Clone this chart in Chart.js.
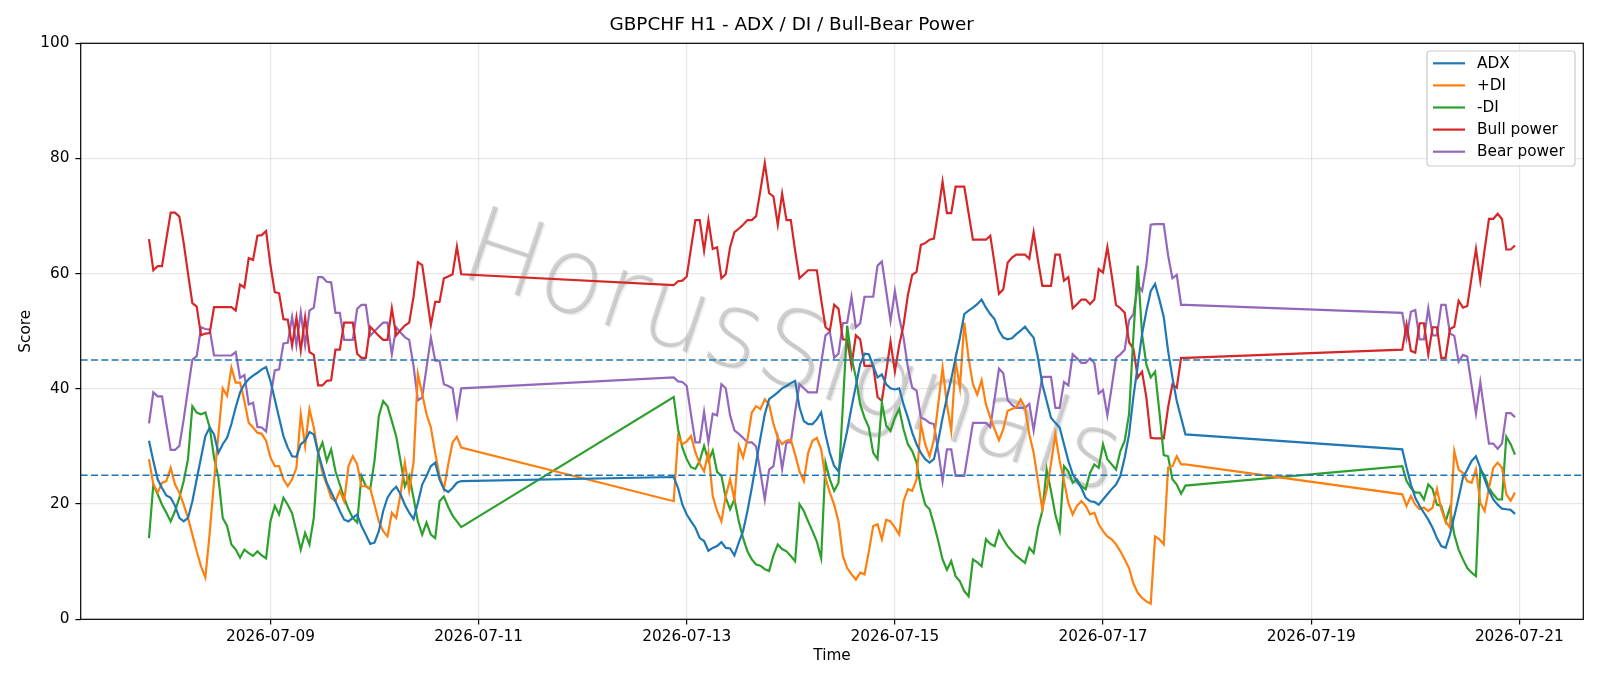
<!DOCTYPE html>
<html>
<head>
<meta charset="utf-8">
<script src="https://cdn.jsdelivr.net/npm/chart.js@4.4.1/dist/chart.umd.min.js"></script>
<style>
  html, body { margin: 0; padding: 0; background: #fff; }
  canvas { display: block; }
</style>
</head>
<body>
<canvas id="chart" width="1600" height="686"></canvas>
<script>
// hourly bars, three trading sessions (weekends skipped)
const sessionStarts = ['2026-07-07T20:00:00Z', '2026-07-12T21:00:00Z', '2026-07-19T21:00:00Z'];
const sessionHours = [73, 119, 27];
const tickLabels = ['2026-07-09', '2026-07-11', '2026-07-13', '2026-07-15', '2026-07-17', '2026-07-19', '2026-07-21'];
const thresholds = [25, 45];

const adx = [
  31.0, 27.5, 24.3, 22.8, 21.5, 21.1, 19.7, 17.6, 17.0, 17.6,
  20.5, 24.3, 28.1, 31.8, 33.3, 32.1, 28.9, 30.4, 31.5, 33.9,
  36.8, 39.4, 40.8, 41.7, 42.3, 42.8, 43.4, 43.8, 41.4, 38.2,
  35.0, 31.8, 29.8, 28.3, 28.2, 30.4, 31.0, 32.5, 32.1, 28.9,
  26.3, 23.7, 22.1, 20.5, 18.8, 17.3, 17.0, 17.6, 18.2, 16.2,
  14.7, 13.1, 13.3, 15.3, 18.8, 21.1, 22.3, 23.0, 21.7, 19.9,
  18.5, 17.4, 20.2, 23.4, 24.9, 26.6, 27.2, 24.3, 22.6, 22.1,
  22.8, 23.7, 24.0,
  24.7, 22.8, 19.9, 18.2, 17.0, 15.9, 14.1, 13.6, 11.9, 12.4,
  12.7, 13.4, 12.4, 12.3, 11.1, 13.3, 15.3, 18.8, 22.8, 27.2,
  31.5, 35.6, 38.2, 38.8, 39.4, 40.1, 40.5, 41.0, 41.4, 36.8,
  34.4, 33.9, 33.9, 34.7, 35.9, 32.1, 28.9, 26.6, 25.7, 29.2,
  32.7, 36.8, 40.5, 44.3, 46.1, 46.0, 44.0, 42.0, 42.5, 40.8,
  40.1, 39.9, 40.1, 37.3, 35.0, 32.4, 30.4, 28.9, 27.8, 27.2,
  27.8, 31.0, 35.0, 38.5, 41.7, 45.4, 48.9, 53.0, 53.6, 54.1,
  54.7, 55.5, 54.1, 53.0, 52.1, 50.1, 48.9, 48.6, 48.8, 49.5,
  50.1, 50.8, 49.8, 48.9, 45.4, 40.8, 37.9, 35.0, 34.1, 33.3,
  30.4, 27.5, 25.2, 24.0, 22.8, 21.1, 20.5, 20.4, 19.9, 20.8,
  21.7, 22.6, 23.4, 24.9, 28.1, 32.1, 38.6, 44.0, 49.5, 53.5,
  57.0, 58.2, 55.5, 52.5, 46.6, 42.0, 37.9, 35.0, 32.1,
  29.5, 26.3, 23.4, 21.1, 19.7, 18.5, 17.3, 15.9, 14.1, 12.7,
  12.4, 14.7, 17.9, 21.1, 24.6, 26.0, 27.5, 28.3, 26.3, 24.3,
  22.3, 20.8, 19.9, 19.2, 19.1, 19.0, 18.3
];

const plusDi = [
  27.8, 23.4, 22.0, 23.7, 24.0, 26.3, 23.4, 22.0, 19.9, 17.6,
  14.7, 11.8, 9.2, 7.3, 15.0, 24.0, 32.0, 40.1, 38.8, 43.7,
  41.1, 41.1, 37.9, 34.1, 33.3, 32.4, 32.2, 31.0, 28.1, 26.6,
  26.6, 24.3, 23.1, 24.3, 26.3, 35.6, 30.1, 36.5, 33.3, 28.9,
  25.4, 23.4, 21.1, 20.5, 22.3, 20.5, 26.6, 28.3, 26.9, 23.1,
  23.1, 22.8, 19.9, 17.0, 15.3, 14.4, 18.5, 17.6, 21.7, 27.2,
  22.3, 27.2, 42.6, 39.1, 35.6, 33.3, 28.9, 24.9, 22.6, 26.9,
  30.7, 31.7, 29.8,
  20.5, 31.8, 30.4, 30.9, 31.8, 29.0, 27.0, 25.7, 29.0, 21.4,
  18.8, 17.0, 21.4, 24.3, 20.8, 30.1, 28.1, 31.2, 35.9, 37.0,
  36.5, 38.2, 37.3, 33.9, 31.5, 30.4, 31.0, 31.2, 28.6, 25.7,
  24.0, 28.9, 31.0, 31.5, 29.5, 24.5, 22.0, 19.9, 17.0, 11.0,
  8.9, 7.8, 6.9, 8.1, 7.8, 11.8, 16.2, 16.5, 13.9, 17.3,
  17.0, 15.9, 14.7, 20.5, 22.6, 22.3, 24.3, 33.9, 30.4, 28.3,
  31.2, 37.3, 43.7, 37.3, 32.7, 44.9, 40.2, 51.5, 45.3, 40.8,
  39.0, 41.5, 37.3, 35.0, 33.0, 31.1, 33.0, 36.2, 36.5, 36.8,
  38.2, 36.8, 32.1, 28.9, 24.0, 19.1, 22.5, 27.0, 32.1, 27.5,
  24.0, 20.2, 18.2, 19.7, 20.5, 19.7, 18.2, 18.5, 16.5, 15.3,
  14.4, 13.9, 13.0, 11.8, 10.4, 8.9, 6.2, 4.6, 3.7, 3.1,
  2.7, 14.4, 13.9, 13.0, 26.3, 26.6, 28.3, 26.9, 26.9,
  21.7, 19.7, 21.4, 19.9, 19.1, 19.4, 18.8, 19.4, 22.6, 19.1,
  17.0, 15.9, 29.2, 26.0, 25.4, 24.0, 23.7, 26.0, 20.2, 18.8,
  22.8, 26.3, 27.2, 26.3, 21.7, 20.6, 22.0
];

const minusDi = [
  14.1, 23.4, 21.7, 19.9, 18.5, 17.0, 18.8, 21.1, 24.0, 27.8,
  37.0, 35.9, 35.6, 35.9, 33.3, 28.1, 24.6, 17.6, 16.2, 13.0,
  12.1, 10.7, 12.1, 11.5, 11.0, 11.8, 11.1, 10.6, 17.0, 19.7,
  18.2, 21.1, 19.9, 18.4, 15.3, 12.1, 15.0, 13.0, 17.6, 28.9,
  30.7, 27.5, 29.5, 25.7, 23.4, 21.1, 19.1, 17.6, 16.8, 24.9,
  23.1, 22.6, 27.5, 35.3, 37.9, 37.0, 34.4, 31.8, 27.5, 23.1,
  24.9, 21.1, 17.0, 14.7, 16.8, 14.7, 14.1, 20.5, 21.3, 19.5,
  18.0, 17.0, 16.0,
  38.6, 33.0, 29.8, 27.8, 26.4, 26.1, 27.5, 30.1, 27.5, 29.3,
  25.6, 24.9, 21.1, 19.1, 20.8, 17.0, 14.1, 11.8, 10.4, 9.5,
  9.3, 8.7, 8.4, 11.1, 13.0, 12.2, 11.8, 11.0, 10.1, 20.0,
  18.8, 17.0, 15.3, 13.5, 10.6, 27.2, 24.3, 22.3, 23.7, 37.0,
  51.0, 45.4, 42.0, 37.3, 35.0, 33.3, 28.9, 27.8, 37.6, 33.6,
  32.7, 35.0, 36.5, 33.0, 30.4, 29.2, 27.2, 22.8, 19.9, 19.1,
  16.5, 13.6, 10.4, 8.6, 10.1, 7.5, 6.6, 4.9, 4.0, 10.4,
  9.9, 9.2, 13.9, 13.1, 12.7, 15.3, 13.9, 12.7, 11.8, 11.0,
  10.4, 9.8, 12.4, 11.5, 15.9, 18.8, 26.0, 22.3, 18.2, 15.4,
  26.6, 25.7, 23.7, 24.3, 23.1, 22.6, 25.4, 26.9, 26.3, 30.4,
  27.8, 26.9, 26.0, 29.2, 31.0, 35.6, 49.2, 61.4, 49.5, 44.2,
  42.0, 43.0, 36.0, 28.5, 28.3, 24.3, 23.4, 21.8, 23.2,
  26.6, 24.0, 22.8, 22.0, 22.0, 20.8, 23.4, 22.6, 19.9, 19.7,
  17.0, 19.4, 14.7, 12.1, 10.4, 8.9, 8.1, 7.5, 26.0, 24.9,
  22.8, 21.7, 20.8, 20.8, 31.7, 30.4, 28.6
];

const bullPower = [
  66.0, 60.6, 61.3, 61.3, 66.0, 70.6, 70.6, 69.9, 65.3, 60.0,
  54.9, 54.3, 49.3, 49.6, 49.7, 54.2, 54.2, 54.2, 54.2, 54.2,
  53.6, 58.1, 57.6, 62.7, 62.4, 66.6, 66.7, 67.4, 61.5, 56.8,
  56.6, 52.1, 52.0, 47.5, 52.4, 46.7, 52.4, 46.4, 45.9, 40.6,
  40.6, 41.4, 41.5, 46.8, 46.8, 51.5, 51.5, 51.5, 46.1, 45.4,
  45.4, 50.8, 50.0, 49.2, 48.5, 48.5, 54.0, 49.3, 50.2, 51.0,
  51.5, 56.0, 62.0, 61.5, 56.3, 51.1, 55.1, 55.1, 59.2, 59.5,
  59.9, 64.7, 59.9,
  58.0, 58.7, 58.8, 59.5, 64.5, 69.3, 69.3, 64.0, 69.3, 64.3,
  64.6, 59.2, 59.9, 64.6, 67.2, 67.8, 68.5, 69.3, 69.3, 70.0,
  74.5, 79.2, 74.0, 73.4, 68.5, 73.9, 69.3, 69.3, 64.0, 59.2,
  59.9, 60.6, 60.6, 60.6, 55.5, 50.7, 50.1, 54.6, 53.9, 48.6,
  48.5, 44.0, 49.3, 48.6, 44.0, 44.0, 44.0, 38.6, 37.9, 43.0,
  48.2, 43.0, 47.6, 51.1, 56.3, 59.8, 60.3, 65.0, 65.3, 65.9,
  66.1, 70.8, 76.0, 70.5, 70.5, 75.1, 75.1, 75.1, 70.5, 65.9,
  65.9, 65.9, 65.9, 66.6, 61.7, 56.5, 57.3, 61.9, 62.8, 63.3,
  63.3, 63.3, 62.6, 67.2, 62.3, 57.9, 57.9, 57.9, 63.3, 63.3,
  58.8, 59.4, 54.0, 54.7, 55.5, 55.5, 54.7, 55.5, 60.8, 60.2,
  64.6, 59.7, 54.6, 54.0, 53.2, 48.1, 47.0, 42.0, 43.0, 38.5,
  31.5, 31.4, 31.4, 31.4, 36.8, 40.8, 40.2, 45.4, 45.4,
  46.8, 51.2, 46.6, 46.3, 51.4, 51.4, 46.0, 50.7, 50.7, 45.4,
  45.4, 50.4, 50.8, 55.3, 54.1, 54.4, 59.4, 64.3, 58.8, 64.2,
  69.5, 69.5, 70.4, 69.5, 64.2, 64.2, 64.9
];

const bearPower = [
  34.0, 39.4, 38.7, 38.7, 34.0, 29.4, 29.4, 30.1, 34.7, 40.0,
  45.1, 45.7, 50.7, 50.4, 50.3, 45.8, 45.8, 45.8, 45.8, 45.8,
  46.4, 41.9, 42.4, 37.3, 37.6, 33.4, 33.3, 32.6, 38.5, 43.2,
  43.4, 47.9, 48.0, 52.5, 47.6, 53.3, 47.6, 53.6, 54.1, 59.4,
  59.4, 58.6, 58.5, 53.2, 53.2, 48.5, 48.5, 48.5, 53.9, 54.6,
  54.6, 49.2, 50.0, 50.8, 51.5, 51.5, 46.0, 50.7, 49.8, 49.0,
  48.5, 44.0, 38.0, 38.5, 43.7, 48.9, 44.9, 44.9, 40.8, 40.5,
  40.1, 35.3, 40.1,
  42.0, 41.3, 41.2, 40.5, 35.5, 30.7, 30.7, 36.0, 30.7, 35.7,
  35.4, 40.8, 40.1, 35.4, 32.8, 32.2, 31.5, 30.7, 30.7, 30.0,
  25.5, 20.8, 26.0, 26.6, 31.5, 26.1, 30.7, 30.7, 36.0, 40.8,
  40.1, 39.4, 39.4, 39.4, 44.5, 49.3, 49.9, 45.4, 46.1, 51.4,
  51.5, 56.0, 50.7, 51.4, 56.0, 56.0, 56.0, 61.4, 62.1, 57.0,
  51.8, 57.0, 52.4, 48.9, 43.7, 40.2, 39.7, 35.0, 34.7, 34.1,
  33.9, 29.2, 24.0, 29.5, 29.5, 24.9, 24.9, 24.9, 29.5, 34.1,
  34.1, 34.1, 34.1, 33.4, 38.3, 43.5, 42.7, 38.1, 37.2, 36.7,
  36.7, 36.7, 37.4, 32.8, 37.7, 42.1, 42.1, 42.1, 36.7, 36.7,
  41.2, 40.6, 46.0, 45.3, 44.5, 44.5, 45.3, 44.5, 39.2, 39.8,
  35.4, 40.3, 45.4, 46.0, 46.8, 51.9, 53.0, 58.0, 57.0, 61.5,
  68.5, 68.6, 68.6, 68.6, 63.2, 59.2, 59.8, 54.6, 54.6,
  53.2, 48.8, 53.4, 53.7, 48.6, 48.6, 54.0, 49.3, 49.3, 54.6,
  54.6, 49.6, 49.2, 44.7, 45.9, 45.6, 40.6, 35.7, 41.2, 35.8,
  30.5, 30.5, 29.6, 30.5, 35.8, 35.8, 35.1
];

// timestamps for every bar
const times = [];
sessionStarts.forEach((s, k) => {
  const t0 = Date.parse(s);
  for (let i = 0; i < sessionHours[k]; i++) times.push(t0 + i * 3600000);
});
const span = times[times.length - 1] - times[0];
const xMin = times[0] - span * 0.05;
const xMax = times[times.length - 1] + span * 0.05;
const tickValues = tickLabels.map(d => Date.parse(d + 'T00:00:00Z'));

const series = [
  { label: 'ADX', values: adx, color: '#1f77b4' },
  { label: '+DI', values: plusDi, color: '#ff7f0e' },
  { label: '-DI', values: minusDi, color: '#2ca02c' },
  { label: 'Bull power', values: bullPower, color: '#d62728' },
  { label: 'Bear power', values: bearPower, color: '#9467bd' },
];

Chart.defaults.font.family = '"DejaVu Sans", sans-serif';
Chart.defaults.color = '#000';

const decor = {
  id: 'decor',
  beforeDatasetsDraw(chart) {
    // watermark
    const ctx = chart.ctx;
    ctx.save();
    ctx.translate(791, 358);
    ctx.rotate(18.5 * Math.PI / 180);
    ctx.font = '200 106px "DejaVu Sans"';
    ctx.textAlign = 'center';
    ctx.textBaseline = 'middle';
    ctx.shadowColor = 'rgba(0,0,0,0.18)';
    ctx.shadowOffsetX = 1.5;
    ctx.shadowOffsetY = 1.5;
    ctx.shadowBlur = 1;
    ctx.fillStyle = 'rgba(160,160,160,0.45)';
    ctx.fillText('HorusSignals', 0, 0);
    ctx.restore();
  },
  afterDatasetsDraw(chart) {
    const { ctx, chartArea: a, scales: { y } } = chart;
    ctx.save();
    ctx.strokeStyle = '#1f77b4';
    ctx.lineWidth = 1.5;
    ctx.setLineDash([7, 3.3]);
    thresholds.forEach(v => {
      const py = y.getPixelForValue(v);
      ctx.beginPath();
      ctx.moveTo(a.left, py);
      ctx.lineTo(a.right, py);
      ctx.stroke();
    });
    ctx.setLineDash([]);
    ctx.strokeStyle = '#000';
    ctx.lineWidth = 1.2;
    ctx.strokeRect(a.left, a.top, a.right - a.left, a.bottom - a.top);
    ctx.restore();
  },
  afterDraw(chart) {
    // legend box, upper right
    const ctx = chart.ctx;
    const bx = 1427, by = 51, bw = 148, bh = 115;
    ctx.save();
    ctx.fillStyle = 'rgba(255,255,255,0.8)';
    ctx.strokeStyle = '#cccccc';
    ctx.lineWidth = 1.2;
    ctx.beginPath();
    ctx.roundRect(bx, by, bw, bh, 3);
    ctx.fill();
    ctx.stroke();
    ctx.font = '15.3px "DejaVu Sans"';
    ctx.textBaseline = 'middle';
    ctx.textAlign = 'left';
    chart.data.datasets.forEach((ds, i) => {
      const ly = 63.3 + i * 22.1;
      ctx.strokeStyle = ds.borderColor;
      ctx.lineWidth = 2.2;
      ctx.beginPath();
      ctx.moveTo(1433, ly);
      ctx.lineTo(1465, ly);
      ctx.stroke();
      ctx.fillStyle = '#000';
      ctx.fillText(ds.label, 1477, ly + 0.5);
    });
    ctx.restore();
  }
};

new Chart(document.getElementById('chart'), {
  type: 'line',
  data: {
    datasets: series.map(s => ({
      label: s.label,
      data: times.map((t, i) => ({ x: t, y: s.values[i] })),
      borderColor: s.color,
      backgroundColor: s.color,
      borderWidth: 2.2,
      pointRadius: 0,
      tension: 0,
      fill: false,
    }))
  },
  options: {
    responsive: false,
    animation: false,
    devicePixelRatio: 1,
    layout: { padding: { left: 0, right: 16.7, top: 0, bottom: 0 } },
    plugins: {
      legend: { display: false },
      tooltip: { enabled: false },
      title: {
        display: true,
        text: 'GBPCHF H1 - ADX / DI / Bull-Bear Power',
        font: { size: 18.4, weight: 'normal' },
        color: '#000',
        padding: { top: 14.5, bottom: 6.7 },
      },
    },
    scales: {
      x: {
        type: 'linear',
        min: xMin,
        max: xMax,
        afterBuildTicks: scale => { scale.ticks = tickValues.map(v => ({ value: v })); },
        afterFit: scale => { scale.height = 66.7; },
        ticks: {
          font: { size: 15.3 },
          padding: 3.5,
          maxRotation: 0,
          autoSkip: false,
          callback: v => new Date(v).toISOString().slice(0, 10),
        },
        grid: {
          color: 'rgba(176,176,176,0.3)',
          lineWidth: 1.2,
          tickColor: '#000',
          tickWidth: 1.2,
          tickLength: 5.3,
        },
        border: { display: false },
        title: { display: true, text: 'Time', font: { size: 15.3 }, padding: { top: 0, bottom: 20.8 } },
      },
      y: {
        min: 0,
        max: 100,
        afterFit: scale => { scale.width = 80.7; },
        ticks: { stepSize: 20, font: { size: 15.3 }, padding: 6 },
        grid: {
          color: 'rgba(176,176,176,0.3)',
          lineWidth: 1.2,
          tickColor: '#000',
          tickWidth: 1.2,
          tickLength: 5.3,
        },
        border: { display: false },
        title: { display: true, text: 'Score', font: { size: 15.3 }, padding: { top: 17, bottom: 0 } },
      },
    },
  },
  plugins: [decor],
});
</script>
</body>
</html>
